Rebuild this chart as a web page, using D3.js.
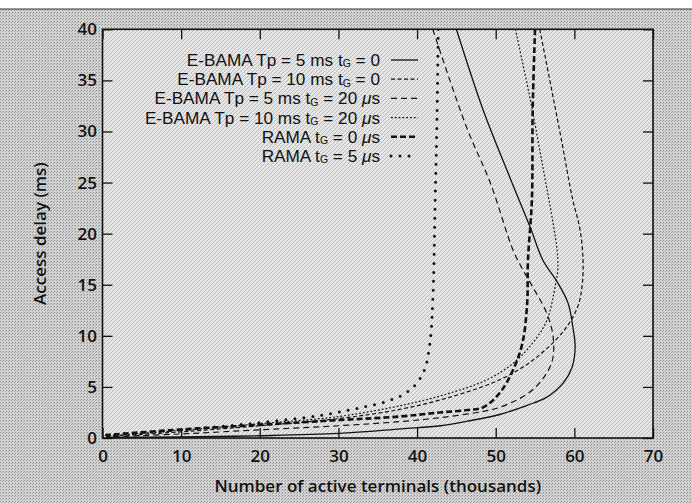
<!DOCTYPE html>
<html><head><meta charset="utf-8">
<script src="https://cdn.jsdelivr.net/npm/d3@7"></script>
<style>
html,body{margin:0;padding:0;background:#fff;}
svg{display:block;}
text{font-family:"Open Sans","DejaVu Sans",sans-serif;fill:#111;}
</style></head>
<body><svg id="c" width="692" height="503"></svg>
<script>
// ---- data ----
const xTicks = [0,10,20,30,40,50,60,70];
const yTicks = [0,5,10,15,20,25,30,35,40];
const xTitle = "Number of active terminals (thousands)";
const yTitle = "Access delay (ms)";

// [terminals (thousands), delay (ms)] along each curve, from top down
const ebama5_tg0 = [[45.0,40],[48.4,32.1],[51.8,25.5],[54.4,20.6],[56.0,17.4],[57.8,15.3],[59.2,13.2],[59.8,10.9],[60.1,8.9],[59.7,6.9],[58.6,5.4],[56.5,4.0],[54.0,3.2],[50.5,2.3],[46.4,1.65],[43,1.2],[38,0.9],[30,0.45],[20,0.22],[10,0.1],[0.5,0.05]];
const ebama10_tg0 = [[55.6,40],[58.2,29.8],[59.8,23.3],[60.7,20.5],[61.1,17.5],[61.0,15],[60.5,13.0],[59.4,11.3],[58.0,9.9],[54.7,7.6],[50.5,5.7],[44.2,4.0],[37.8,2.8],[30,1.9],[20,1.2],[10,0.6],[0.5,0.15]];
const ebama5_tg20 = [[42.0,40],[46.3,30.4],[49.3,25.0],[52.2,18.4],[53.5,16.4],[54.7,14.8],[56.5,12.2],[57.3,9.9],[57.2,7.6],[56.0,5.8],[54.0,4.3],[50.5,3.0],[48.4,2.6],[43,2.0],[37.8,1.6],[30,1.2],[20,0.8],[10,0.4],[0.5,0.1]];
const ebama10_tg20 = [[52.5,40],[54.4,33.1],[56.0,26.5],[57.3,21],[57.8,18.4],[57.9,16.5],[57.6,15.0],[56.5,11.5],[54.7,9.3],[52.2,7.3],[48.9,5.7],[44.2,4.4],[38.7,3.3],[30,2.1],[20,1.4],[10,0.75],[0.5,0.2]];
const rama_tg0 = [[55.0,40],[54.7,32.1],[54.6,23.3],[54.1,17.4],[54.0,13.2],[53.4,9.3],[52.2,6.65],[50.5,4.4],[48.4,3.0],[46.4,2.74],[42.9,2.5],[37.8,2.1],[30.2,1.76],[19.6,1.27],[9.0,0.78],[0.6,0.3]];
const rama_tg5 = [[42.7,40],[42.5,30],[42.3,23.3],[42.0,13.5],[41.6,9.1],[40.8,6.4],[39.1,4.7],[36.6,3.7],[32.4,2.9],[28.0,2.25],[19.6,1.47],[11.1,0.88],[2.6,0.4],[0.5,0.3]];

const seriesData = [ebama5_tg0, ebama10_tg0, ebama5_tg20, ebama10_tg20, rama_tg0, rama_tg5];
// legend label parts: [before subscript, subscript, after subscript, italic mu + s?]
const legendLabels = [
  ["E-BAMA Tp = 5 ms t","G"," = 0",""],
  ["E-BAMA Tp = 10 ms t","G"," = 0",""],
  ["E-BAMA Tp = 5 ms t","G"," = 20 ","μs"],
  ["E-BAMA Tp = 10 ms t","G"," = 20 ","μs"],
  ["RAMA t","G"," = 0 ","μs"],
  ["RAMA t","G"," = 5 ","μs"]
];
const styles = [
  {w:1.3, dash:null, cap:"butt"},
  {w:1.2, dash:"4,2.5", cap:"butt"},
  {w:1.2, dash:"6,4", cap:"butt"},
  {w:1.2, dash:"1.8,2", cap:"butt"},
  {w:2.6, dash:"6,3", cap:"butt"},
  {w:3.0, dash:"0,9", cap:"round"}
];

// ---- drawing ----
const svg = d3.select("#c");
const L=102.5, R=653, T=29.3, B=438;
const x = d3.scaleLinear().domain([0,70]).range([L,R]);
const y = d3.scaleLinear().domain([0,40]).range([B,T]);

const defs = svg.append("defs");
const hatch = defs.append("pattern").attr("id","hatch").attr("patternUnits","userSpaceOnUse")
  .attr("width",4).attr("height",4);
hatch.append("rect").attr("width",4).attr("height",4).attr("fill","#e6e6e6");
hatch.append("path").attr("d","M-1,1 l2,-2 M0,4 l4,-4 M3,5 l2,-2").attr("stroke","#bcbcbc").attr("stroke-width",1);
const dots = defs.append("pattern").attr("id","dots").attr("patternUnits","userSpaceOnUse")
  .attr("width",3).attr("height",3);
dots.append("rect").attr("width",3).attr("height",3).attr("fill","#d2d2d2");
dots.append("rect").attr("width",1).attr("height",1).attr("fill","#8c8c8c");
dots.append("rect").attr("x",2).attr("y",1).attr("width",1).attr("height",1).attr("fill","#a4a4a4");
defs.append("clipPath").attr("id","clip").append("rect").attr("x",L).attr("y",T).attr("width",R-L).attr("height",B-T);

svg.append("rect").attr("x",0).attr("y",9).attr("width",692).attr("height",494).attr("fill","url(#dots)");
svg.append("line").attr("x1",0).attr("x2",692).attr("y1",9).attr("y2",9).attr("stroke","#333").attr("stroke-width",1);
svg.append("rect").attr("x",L).attr("y",T).attr("width",R-L).attr("height",B-T).attr("fill","url(#hatch)");

// axes
const fs = 17;
const gB = svg.append("g").attr("transform",`translate(0,${B})`)
  .call(d3.axisBottom(x).tickValues(xTicks).tickSizeInner(-10).tickSizeOuter(0).tickPadding(12));
const gT = svg.append("g").attr("transform",`translate(0,${T})`)
  .call(d3.axisTop(x).tickValues(xTicks).tickSizeInner(-10).tickSizeOuter(0).tickFormat(""));
const gL = svg.append("g").attr("transform",`translate(${L},0)`)
  .call(d3.axisLeft(y).tickValues(yTicks).tickSizeInner(-10).tickSizeOuter(0).tickPadding(5.5));
const gR = svg.append("g").attr("transform",`translate(${R},0)`)
  .call(d3.axisRight(y).tickValues(yTicks).tickSizeInner(-10).tickSizeOuter(0).tickFormat(""));
[gB,gT,gL,gR].forEach(g=>{
  g.select(".domain").remove();
  g.selectAll(".tick line").attr("stroke","#111").attr("stroke-width",1.3);
  g.selectAll(".tick text").attr("font-size",fs).attr("font-weight",600).attr("fill","#111")
    .style("font-family",'"Open Sans",sans-serif');
});

// frame
svg.append("rect").attr("x",L).attr("y",T).attr("width",R-L).attr("height",B-T)
  .attr("fill","none").attr("stroke","#111").attr("stroke-width",1.6);

// titles
svg.append("text").attr("x",(L+R)/2).attr("y",492).attr("text-anchor","middle")
  .attr("font-size",17).attr("font-weight",600).text(xTitle);
svg.append("text").attr("transform",`translate(46,${(T+B)/2}) rotate(-90)`).attr("text-anchor","middle")
  .attr("font-size",17).attr("font-weight",600).text(yTitle);

// curves
const line = d3.line().x(d=>x(d[0])).y(d=>y(d[1])).curve(d3.curveCatmullRom.alpha(0.5));
const gC = svg.append("g").attr("clip-path","url(#clip)");
seriesData.forEach((s,i)=>{
  const st = styles[i];
  gC.append("path").attr("d",line(s)).attr("fill","none").attr("stroke","#111")
    .attr("stroke-width",st.w).attr("stroke-dasharray",st.dash).attr("stroke-linecap",st.cap);
});

// legend
const legY0 = 60, legDy = 19.2;
legendLabels.forEach((lab,i)=>{
  const yy = legY0 + i*legDy;
  const t = svg.append("text").attr("x",380).attr("y",yy+6).attr("text-anchor","end")
    .style("font-family",'"Liberation Sans",Arial,sans-serif')
    .attr("font-size",17.2);
  t.append("tspan").text(lab[0]);
  t.append("tspan").attr("font-size",10.5).attr("dy",1.4).text(lab[1]);
  t.append("tspan").attr("dy",-1.4).text(lab[2]);
  if(lab[3]){
    t.append("tspan").attr("font-style","italic").text("μ");
    t.append("tspan").text("s");
  }
  const st = styles[i];
  svg.append("line").attr("x1",391).attr("x2",418).attr("y1",yy).attr("y2",yy)
    .attr("stroke","#111").attr("stroke-width",st.w).attr("stroke-dasharray",st.dash).attr("stroke-linecap",st.cap);
});
</script></body></html>
